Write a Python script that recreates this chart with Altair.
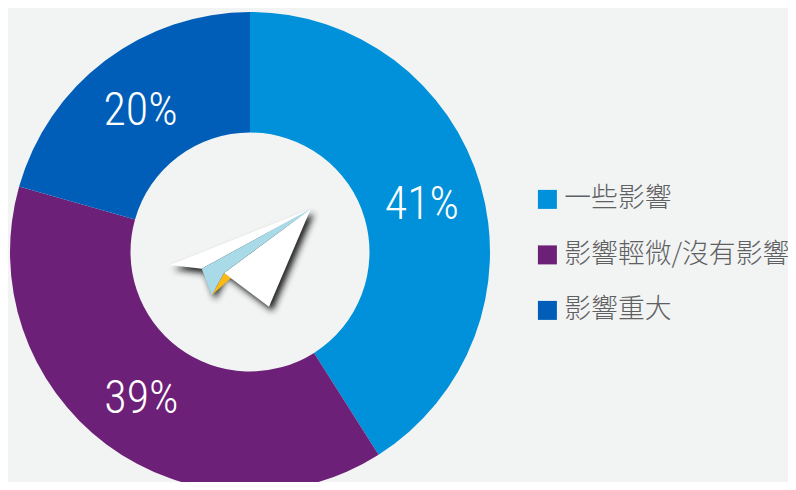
import altair as alt
import pandas as pd
from urllib.parse import quote

categories = ["一些影響", "影響輕微/沒有影響", "影響重大"]
values = [41, 38.4, 20.6]
labels = ["41%", "39%", "20%"]
colors = ["#0091da", "#6d2077", "#005eb8"]
rank = [0, 1, 2]

plane = """<svg xmlns='http://www.w3.org/2000/svg' width='180' height='130' viewBox='150 190 180 130'>
<defs><filter id='b' x='-30%' y='-30%' width='160%' height='160%'><feGaussianBlur stdDeviation='3'/></filter></defs>
<g transform='translate(3.5 4.5)' filter='url(#b)' fill='#222'><polygon points='310.7,209 170,265 201.7,268.7 211.7,295.3 224,273 269,306.7'/></g>
<polygon points='310.7,209 170,265 201.7,268.7' fill='#fff'/>
<polygon points='224,273 211.7,295.3 231,278' fill='#fdb913'/>
<polygon points='310.7,209 224,273 269,306.7' fill='#fff'/>
<polygon points='310.7,209 201.7,268.7 211.7,295.3 224,273' fill='#a8dae8'/>
</svg>"""

df = pd.DataFrame({"cat": categories, "v": values, "label": labels, "rank": rank})
scale = alt.Scale(domain=categories, range=colors)
cx, cy = alt.value(242), alt.value(244)

arcs = alt.Chart(df).mark_arc(innerRadius=119.5, outerRadius=240).encode(
    theta=alt.Theta("v:Q", stack=True, scale=alt.Scale(domain=[0, 100], range=[0, 6.283185307])),
    order=alt.Order("rank:Q"),
    color=alt.Color("cat:N", scale=scale, sort=categories, legend=alt.Legend(
        title=None, orient="none", legendX=526, legendY=178, symbolType="square",
        symbolSize=361, symbolStrokeWidth=0, symbolOpacity=1, labelFont="Noto Sans CJK TC", labelFontWeight=300,
        labelFontSize=26.8, labelColor="#5f6062", labelOffset=3.5, rowPadding=27.5, labelLimit=300,
    )),
    x=cx, y=cy,
)

text = alt.Chart(df).mark_text(
    radius=180, dy=3, dx=-1, font="'Roboto Condensed', Roboto", fontSize=46, color="white", fontWeight=300,
).encode(
    theta=alt.Theta("v:Q", stack=True, scale=alt.Scale(domain=[0, 100], range=[0, 6.283185307])),
    order=alt.Order("rank:Q"),
    text="label:N", x=cx, y=cy,
)

icon = alt.Chart(pd.DataFrame({"u": ["data:image/svg+xml," + quote(plane)]})).mark_image(
    width=180, height=130
).encode(url="u:N", x=alt.value(232), y=alt.value(247))

chart = alt.layer(arcs, text, icon).properties(
    width=780, height=474, padding=0, autosize=alt.AutoSizeParams(type="none"), background="#f2f4f4"
).configure_view(stroke=None)

chart.save("out.html", embed_options={"renderer": "svg", "actions": False})
